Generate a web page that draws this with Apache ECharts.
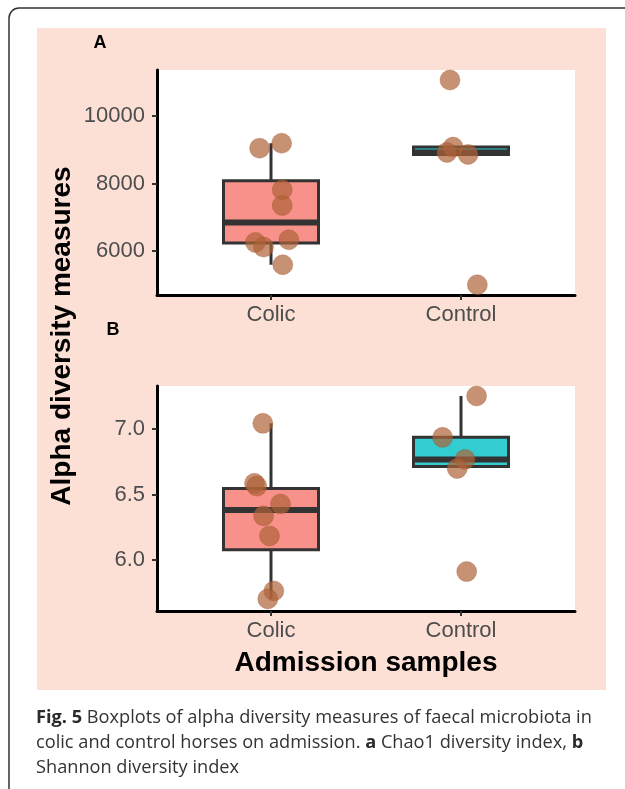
<!DOCTYPE html>
<html lang="en">
<head>
<meta charset="UTF-8">
<title>Alpha diversity boxplots</title>
<script src="https://cdn.jsdelivr.net/npm/echarts@6/dist/echarts.min.js"></script>
<style>
    html,body{margin:0;padding:0;background:#fff;overflow:hidden;}
    #chart{width:625px;height:789px;}
</style>
</head>
<body>
<div id="chart"></div>
<script>
const categories = ['Colic', 'Control'];

// panel A - Chao1
const chaoTicks = [6000, 8000, 10000];
const chaoColicX = [0.94, 1.056, 1.059, 1.059, 0.918, 0.961, 1.094, 1.062];
const chaoColicY = [9049, 9197, 7812, 7346, 6249, 6112, 6329, 5587];
const chaoControlX = [1.942, 1.958, 1.926, 2.037, 2.086];
const chaoControlY = [11074, 9081, 8924, 8865, 4994];
// [low whisker, Q1, median, Q3, high whisker]
const chaoColicBox = [5587, 6230, 6840, 8080, 9197];
const chaoControlBox = [8865, 8865, 8924, 9081, 9081];

// panel B - Shannon
const shanTicks = [6.0, 6.5, 7.0];
const shanColicX = [0.957, 0.913, 0.925, 1.050, 0.961, 0.992, 1.015, 0.983];
const shanColicY = [7.044, 6.586, 6.565, 6.428, 6.338, 6.185, 5.765, 5.704];
const shanControlX = [2.082, 1.903, 2.021, 1.980, 2.030];
const shanControlY = [7.253, 6.937, 6.769, 6.700, 5.913];
const shanColicBox = [5.704, 6.080, 6.382, 6.546, 7.044];
const shanControlBox = [6.715, 6.715, 6.769, 6.937, 7.253];

const boxFills = ['#F8918A', '#33CCD0'];
const pointColor = 'rgba(175,98,55,0.7)';
const font = '"Liberation Sans", Arial, sans-serif';

function pairs(xs, ys) {
    return xs.map(function (x, i) { return [x, ys[i]]; });
}

function renderBox(params, api) {
    let x = api.value(0);
    let lo = api.coord([x, api.value(1)]);
    let q1 = api.coord([x + 0.25, api.value(2)]);
    let med = api.coord([x - 0.25, api.value(3)]);
    let q3 = api.coord([x - 0.25, api.value(4)]);
    let hi = api.coord([x, api.value(5)]);
    let medR = api.coord([x + 0.25, api.value(3)]);
    let line = {stroke: '#333333', lineWidth: 3};
    return {
        type: 'group',
        children: [
            {type: 'line', shape: {x1: hi[0], y1: hi[1], x2: hi[0], y2: q3[1]}, style: line},
            {type: 'line', shape: {x1: lo[0], y1: lo[1], x2: lo[0], y2: q1[1]}, style: line},
            {type: 'rect', shape: {x: q3[0], y: q3[1], width: q1[0] - q3[0], height: q1[1] - q3[1]},
                style: {fill: boxFills[params.dataIndex], stroke: '#333333', lineWidth: 3}},
            {type: 'line', shape: {x1: med[0], y1: med[1], x2: medR[0], y2: medR[1]},
                style: {stroke: '#333333', lineWidth: 6}}
        ]
    };
}

function xAxisFor(idx) {
    return {
        type: 'value', gridIndex: idx, min: 0.4, max: 2.6,
        axisLine: {onZero: false, lineStyle: {color: '#000', width: 3}},
        axisTick: {customValues: [1, 2], length: 5, lineStyle: {color: '#333', width: 2}},
        axisLabel: {customValues: [1, 2], margin: 9, color: '#4D4D4D', fontSize: 22, fontFamily: font,
            formatter: function (v) { return categories[Math.round(v) - 1]; }},
        splitLine: {show: false}
    };
}

function yAxisFor(idx, min, max, ticks, fmt) {
    return {
        type: 'value', gridIndex: idx, min: min, max: max,
        axisLine: {show: true, onZero: false, lineStyle: {color: '#000', width: 3}},
        axisTick: {show: true, customValues: ticks, length: 5, lineStyle: {color: '#333', width: 2}},
        axisLabel: {customValues: ticks, margin: 12, color: '#4D4D4D', fontSize: 22, fontFamily: font,
            formatter: fmt},
        splitLine: {show: false}
    };
}

function boxSeries(idx, data) {
    return {
        type: 'custom', xAxisIndex: idx, yAxisIndex: idx, z: 2,
        renderItem: renderBox, data: data
    };
}

function pointSeries(idx, xs, ys) {
    return {
        type: 'scatter', xAxisIndex: idx, yAxisIndex: idx, z: 3,
        symbolSize: 20, data: pairs(xs, ys),
        itemStyle: {color: pointColor, borderColor: 'rgba(150,75,35,0.3)', borderWidth: 1, opacity: 1},
        emphasis: {disabled: true}
    };
}

let myChart = echarts.init(document.getElementById('chart'), null, {renderer: 'canvas'});
let option = {
    animation: false,
    backgroundColor: '#fff',
    grid: [
        {left: 157, top: 70, width: 418, height: 225, show: true, backgroundColor: '#fff', borderWidth: 0},
        {left: 157, top: 386, width: 418, height: 225, show: true, backgroundColor: '#fff', borderWidth: 0}
    ],
    xAxis: [xAxisFor(0), xAxisFor(1)],
    yAxis: [
        yAxisFor(0, 4689, 11371, chaoTicks, function (v) { return String(Math.round(v)); }),
        yAxisFor(1, 5.612, 7.329, shanTicks, function (v) { return v.toFixed(1); })
    ],
    series: [
        boxSeries(0, [[1].concat(chaoColicBox), [2].concat(chaoControlBox)]),
        pointSeries(0, chaoColicX, chaoColicY),
        pointSeries(0, chaoControlX, chaoControlY),
        boxSeries(1, [[1].concat(shanColicBox), [2].concat(shanControlBox)]),
        pointSeries(1, shanColicX, shanColicY),
        pointSeries(1, shanControlX, shanControlY)
    ],
    graphic: [
        {type: 'rect', z: -10, shape: {x: 9, y: 8, width: 660, height: 820, r: 10},
            style: {fill: '#fff', stroke: '#333', lineWidth: 1.5}},
        {type: 'rect', z: -9, shape: {x: 37, y: 28, width: 569, height: 662},
            style: {fill: '#FCE0D5'}},
        {type: 'text', z: 5, x: 100, y: 43, style: {text: 'A', font: 'bold 18px ' + font, fill: '#000',
            align: 'center', verticalAlign: 'middle'}},
        {type: 'text', z: 5, x: 113, y: 330, style: {text: 'B', font: 'bold 18px ' + font, fill: '#000',
            align: 'center', verticalAlign: 'middle'}},
        {type: 'text', z: 5, x: 62, y: 336, rotation: Math.PI / 2,
            style: {text: 'Alpha diversity measures', font: 'bold 28px ' + font, fill: '#000',
                align: 'center', verticalAlign: 'middle'}},
        {type: 'text', z: 5, x: 366, y: 663,
            style: {text: 'Admission samples', font: 'bold 28px ' + font, fill: '#000',
                align: 'center', verticalAlign: 'middle'}},
        {type: 'text', z: 5, left: 36, top: 705,
            style: {
                text: '{b|Fig. 5} Boxplots of alpha diversity measures of faecal microbiota in\n' +
                    'colic and control horses on admission. {b|a} Chao1 diversity index, {b|b}\n' +
                    'Shannon diversity index',
                font: '18.2px "Open Sans", sans-serif', fill: '#333', lineHeight: 25,
                rich: {b: {font: 'bold 18.2px "Open Sans", sans-serif', fill: '#2b2b2b', lineHeight: 25}}
            }}
    ]
};
myChart.setOption(option);
</script>
</body>
</html>
